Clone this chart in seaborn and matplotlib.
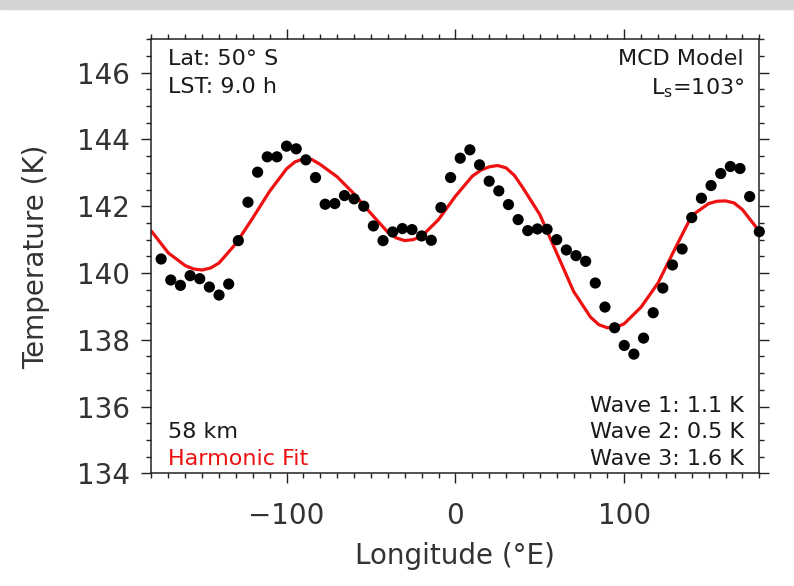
import numpy as np
import pandas as pd
import seaborn as sns
import matplotlib.pyplot as plt
from matplotlib.ticker import MultipleLocator
from matplotlib.patches import Rectangle

# MCD model temperatures, 63 longitudes (step 360/63)
lon_obs = [-180 + 360 / 63 * k for k in range(1, 64)]
temp_obs = [
    140.42, 139.79, 139.63, 139.92, 139.83, 139.58, 139.34, 139.67, 140.97, 142.12,
    143.02, 143.48, 143.48, 143.80, 143.72, 143.39, 142.86, 142.06, 142.08, 142.32,
    142.22, 142.00, 141.41, 140.97, 141.23, 141.33, 141.30, 141.11, 140.98, 141.96,
    142.86, 143.44, 143.69, 143.24, 142.75, 142.46, 142.05, 141.60, 141.27, 141.32,
    141.31, 141.00, 140.69, 140.52, 140.35, 139.70, 138.98, 138.36, 137.83, 137.57,
    138.05, 138.81, 139.55, 140.24, 140.72, 141.66, 142.24, 142.62, 142.98, 143.19,
    143.13, 142.29, 141.24,
]

# harmonic fit curve
lon_fit = [-180, -170, -160, -155, -150, -145, -140, -130, -120, -110, -100, -95, -90,
           -85, -80, -70, -60, -50, -40, -35, -30, -25, -20, -10, 0, 10, 15, 20, 25,
           30, 35, 40, 50, 60, 70, 80, 85, 90, 95, 100, 110, 120, 130, 140, 150, 155,
           160, 165, 170, 180]
temp_fit = [141.25, 140.60, 140.22, 140.12, 140.09, 140.15, 140.30, 140.88, 141.65,
            142.45, 143.12, 143.33, 143.42, 143.40, 143.25, 142.88, 142.37, 141.78,
            141.22, 141.05, 140.97, 141.00, 141.10, 141.60, 142.30, 142.90, 143.08,
            143.18, 143.22, 143.15, 142.92, 142.55, 141.75, 140.60, 139.45, 138.68,
            138.45, 138.36, 138.37, 138.48, 138.98, 139.70, 140.72, 141.72, 142.08,
            142.15, 142.16, 142.10, 141.90, 141.25]

wave_labels = ["Wave 1: 1.1 K", "Wave 2: 0.5 K", "Wave 3: 1.6 K"]

obs = pd.DataFrame({"lon": lon_obs, "temp": temp_obs})
fit = pd.DataFrame({"lon": lon_fit, "temp": temp_fit})

sns.set_style("ticks")
plt.rcParams['font.family'] = ['DejaVu Sans']
plt.rcParams['mathtext.fontset'] = 'dejavusans'

fig = plt.figure(figsize=(7.94, 5.86), dpi=100)
fig.patches.append(Rectangle((0, 1 - 9 / 586), 1, 9 / 586, transform=fig.transFigure,
                             color="#d4d4d4", zorder=0))
ax = fig.add_axes([0.1908, 0.1923, 0.7655, 0.7406])

red = "#ee1111"
sns.lineplot(data=fit, x="lon", y="temp", color=red, lw=2.3, ax=ax,
             sort=False, zorder=2)
sns.scatterplot(data=obs, x="lon", y="temp", color="black", s=65, edgecolor="none",
                ax=ax, zorder=3, clip_on=False)

ax.set_xlim(-180, 180)
ax.set_ylim(134, 147)
ax.xaxis.set_major_locator(MultipleLocator(100))
ax.xaxis.set_minor_locator(MultipleLocator(10))
ax.yaxis.set_major_locator(MultipleLocator(2))
ax.yaxis.set_minor_locator(MultipleLocator(0.5))
ax.tick_params(which="both", direction="out", top=True, right=True, width=1.0,
               color="#222222")
ax.tick_params(which="major", length=7.5, labelsize=20, labelcolor="#333333")
ax.tick_params(which="minor", length=3.8)
ax.tick_params(axis="x", which="major", pad=13)
ax.tick_params(axis="y", which="major", pad=8)
for sp in ax.spines.values():
    sp.set_linewidth(1.1)
    sp.set_color("#222222")

ax.set_xlabel("Longitude (°E)", fontsize=20, labelpad=9, color="#333333")
ax.set_ylabel("Temperature (K)", fontsize=20, labelpad=19, color="#333333")

fs = 16
tc = "#1a1a1a"
ax.text(0.027, 0.978, "Lat: 50° S", transform=ax.transAxes, fontsize=fs, va="top",
        color=tc)
ax.text(0.027, 0.914, "LST: 9.0 h", transform=ax.transAxes, fontsize=fs, va="top",
        color=tc)
ax.text(0.975, 0.978, "MCD Model", transform=ax.transAxes, fontsize=fs, va="top",
        ha="right", color=tc)
ax.text(0.975, 0.914, r"L$_{\rm s}$=103°", transform=ax.transAxes, fontsize=fs,
        va="top", ha="right", color=tc)
ax.text(0.027, 0.071, "58 km", transform=ax.transAxes, fontsize=fs, va="bottom",
        color=tc)
ax.text(0.027, 0.011, "Harmonic Fit", transform=ax.transAxes, fontsize=fs,
        va="bottom", color=red)
for i, lab in enumerate(wave_labels):
    ax.text(0.975, 0.133 - 0.062 * i, lab, transform=ax.transAxes, fontsize=fs,
            va="bottom", ha="right", color=tc)

fig.savefig("out.png", dpi=100)
